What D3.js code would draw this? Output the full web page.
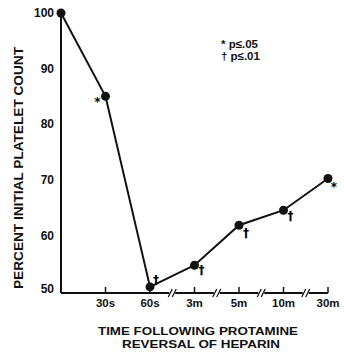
<!DOCTYPE html>
<html>
<head>
<meta charset="utf-8">
<script src="https://cdn.jsdelivr.net/npm/d3@7"></script>
<style>
  body { margin: 0; background: #fff; }
  text { font-family: "Liberation Sans", Arial, sans-serif; font-weight: bold; fill: #111; }
</style>
</head>
<body>
<div id="chart"></div>
<script>
// data
var times = ["0", "30s", "60s", "3m", "5m", "10m", "30m"];
var tickLabels = ["", "30s", "60s", "3m", "5m", "10m", "30m"];
var percent = [100, 85, 50.7, 54.6, 61.8, 64.5, 70.2];
var signif = ["", "*", "\u2020", "\u2020", "\u2020", "\u2020", "*"];
var yTicks = [50, 60, 70, 80, 90, 100];

var svg = d3.select("#chart")
    .append("svg")
    .attr("width", 344)
    .attr("height", 355);

var x = d3.scalePoint()
    .domain(times)
    .range([61, 328]);

var y = d3.scaleLinear()
    .domain([49.6, 100])
    .range([293, 13]);

// y axis line (no ticks)
svg.append("line")
    .attr("x1", 61).attr("x2", 61)
    .attr("y1", y(100)).attr("y2", y(49.6))
    .attr("stroke", "#111").attr("stroke-width", 2);

svg.selectAll(".ylab")
    .data(yTicks)
    .enter()
    .append("text")
    .attr("class", "ylab")
    .attr("x", 54)
    .attr("y", d => y(d) - (d == 50 ? 2 : 0))
    .attr("dy", "0.36em")
    .attr("text-anchor", "end")
    .style("font-size", "12px")
    .text(d => d);

// x axis
svg.append("line")
    .attr("x1", 61).attr("x2", x("30m"))
    .attr("y1", 293).attr("y2", 293)
    .attr("stroke", "#111").attr("stroke-width", 2);

svg.selectAll(".xtick")
    .data(times.slice(1))
    .enter()
    .append("line")
    .attr("x1", d => x(d)).attr("x2", d => x(d))
    .attr("y1", 293).attr("y2", 287)
    .attr("stroke", "#111").attr("stroke-width", 1.5);

svg.selectAll(".xlab")
    .data(times.slice(1))
    .enter()
    .append("text")
    .attr("x", d => x(d))
    .attr("y", 307)
    .attr("text-anchor", "middle")
    .style("font-size", "11.5px")
    .text((d, i) => tickLabels[i + 1]);

// axis breaks between the later time points
var breaks = d3.pairs(times.slice(2)).map(p => (x(p[0]) + x(p[1])) / 2);
breaks.forEach(bx => {
    svg.append("rect")
        .attr("x", bx - 3).attr("y", 290)
        .attr("width", 6).attr("height", 6)
        .attr("fill", "#fff");
    [-2, 2].forEach(o => {
        svg.append("line")
            .attr("x1", bx + o - 2).attr("y1", 297)
            .attr("x2", bx + o + 2).attr("y2", 289)
            .attr("stroke", "#111").attr("stroke-width", 1.3);
    });
});

// line and points
var line = d3.line()
    .x((d, i) => x(times[i]))
    .y(d => y(d));

svg.append("path")
    .datum(percent)
    .attr("d", line)
    .attr("fill", "none")
    .attr("stroke", "#111")
    .attr("stroke-width", 2);

svg.selectAll(".dot")
    .data(percent)
    .enter()
    .append("circle")
    .attr("cx", (d, i) => x(times[i]))
    .attr("cy", d => y(d))
    .attr("r", 4.5)
    .attr("fill", "#111");

// significance marks
var markOff = [[0, 0], [-8, 10], [6, -3], [7, 9], [7, 12], [7, 10], [6, 12]];
svg.selectAll(".sig")
    .data(percent)
    .enter()
    .append("text")
    .attr("x", (d, i) => x(times[i]) + markOff[i][0])
    .attr("y", (d, i) => y(d) + markOff[i][1])
    .attr("text-anchor", "middle")
    .style("font-family", "'DejaVu Sans', sans-serif")
    .style("font-size", "12px")
    .style("fill", "#000")
    .text((d, i) => signif[i]);

// legend
svg.append("text").attr("x", 221).attr("y", 48)
    .style("font-size", "11.5px").text("* p\u2264.05");
svg.append("text").attr("x", 221).attr("y", 60)
    .style("font-size", "11.5px").text("\u2020 p\u2264.01");

// axis titles
svg.append("text")
    .attr("transform", "translate(23,168) rotate(-90)")
    .attr("text-anchor", "middle")
    .attr("textLength", 242)
    .attr("lengthAdjust", "spacingAndGlyphs")
    .style("font-size", "12.5px")
    .text("PERCENT INITIAL PLATELET COUNT");

svg.append("text")
    .attr("x", 198).attr("y", 335)
    .attr("text-anchor", "middle")
    .attr("textLength", 200)
    .attr("lengthAdjust", "spacingAndGlyphs")
    .style("font-size", "11px")
    .text("TIME FOLLOWING PROTAMINE");

svg.append("text")
    .attr("x", 201).attr("y", 348)
    .attr("text-anchor", "middle")
    .attr("textLength", 158)
    .attr("lengthAdjust", "spacingAndGlyphs")
    .style("font-size", "11px")
    .text("REVERSAL OF HEPARIN");
</script>
</body>
</html>
